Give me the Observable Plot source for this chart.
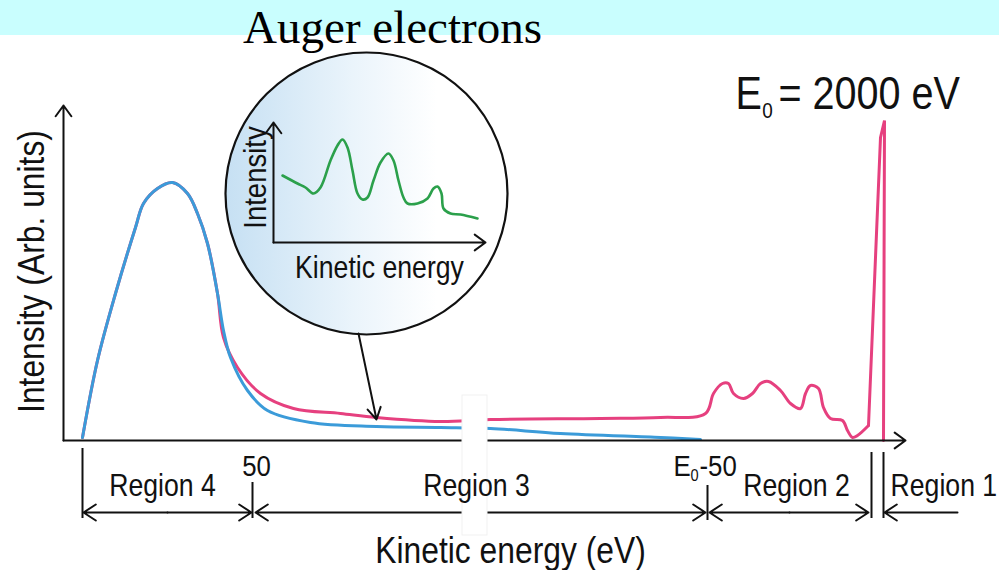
<!DOCTYPE html>
<html>
<head>
<meta charset="utf-8">
<style>
  html, body { margin: 0; padding: 0; background: #fff; }
  #chart svg { display: block; }
</style>
<script src="https://cdn.jsdelivr.net/npm/d3@7"></script>
<script src="https://cdn.jsdelivr.net/npm/@observablehq/plot@0.6"></script>
</head>
<body>
<div id="chart"></div>
<script>
// Schematic electron energy spectrum. x = position along the kinetic-energy axis
// (measured from the origin), y = intensity above the baseline, both in schematic units.

// Spectrum with loss features and Auger peaks (pink)
const fullSpectrum = [
  [19, 3], [34, 80], [52, 147], [72, 213], [80, 237], [94, 252], [109, 258], [124, 247],
  [134, 227], [144, 197], [154, 147], [160, 103], [174, 73], [197, 47], [230, 32],
  [277, 27], [313, 23], [377, 19], [427, 21], [537, 22], [597, 23], [642, 27],
  [650, 47], [659, 57], [665, 57], [670, 47], [680, 42], [689, 47], [697, 57], [705, 59],
  [717, 50], [727, 37], [737, 32], [742, 47], [747, 55], [755, 52], [760, 33], [767, 22],
  [779, 20], [784, 10], [789, 3], [794, 5], [805, 15]
];
// Elastic peak at E0
const elasticPeak = [[805, 15], [817, 303], [821, 320], [820, 0]];
// True secondary electrons only (blue)
const secondaries = [
  [19, 3], [34, 80], [52, 147], [72, 213], [80, 237], [94, 252], [109, 258], [124, 247],
  [134, 227], [144, 197], [154, 147], [160, 110], [167, 83], [184, 50], [204, 30],
  [247, 18], [313, 14], [377, 13], [427, 12], [497, 7], [597, 3], [637, 1]
];
// Magnified Auger fine structure (green)
const augerDetail = [
  [219, 265], [234, 257], [242, 253], [250, 247], [257, 253], [267, 280], [274, 295],
  [279, 301], [284, 293], [289, 270], [294, 247], [299, 241], [304, 243], [310, 260],
  [317, 278], [325, 287], [330, 280], [335, 260], [340, 243], [344, 237], [354, 237],
  [364, 242], [370, 252], [374, 254], [378, 247], [380, 232], [387, 227], [397, 226],
  [414, 222]
];

// Region names and boundary marks on the energy axis
const regionNames = ["Region 4", "Region 3", "Region 2", "Region 1"];
const boundaryTicks = [19, 189, 644, 808, 820];
const beamEnergy = "2000 eV";

// ---- layout of annotations ----
const band = [{x1: -63, x2: 936, y1: 405, y2: 440}];
const axes = [{x1: 0, y1: 0, x2: 0, y2: 335}, {x1: 0, y1: 0, x2: 842, y2: 0}];
const insetAxes = [{x1: 210, y1: 198, x2: 210, y2: 318}, {x1: 210, y1: 198, x2: 422, y2: 198}];
const lens = [{x: 303, y: 247}];
const pointer = [{x1: 295, y1: 107, x2: 313, y2: 21}];
const axisBreak = [{x1: 399, x2: 424, y1: 45, y2: -95}];
const tickSpans = [
  {x: boundaryTicks[0], y1: -8, y2: -78},
  {x: boundaryTicks[1], y1: -42, y2: -78},
  {x: boundaryTicks[2], y1: -45, y2: -80},
  {x: boundaryTicks[3], y1: -12, y2: -78},
  {x: boundaryTicks[4], y1: -12, y2: -78}
];
const yb = -72;
const spans = [
  {from: 104, to: 20}, {from: 104, to: 188},
  {from: 416, to: 192}, {from: 416, to: 642},
  {from: 726, to: 646}, {from: 726, to: 805},
  {from: 894, to: 821}
].map(d => ({x1: d.from, x2: d.to, y1: yb, y2: yb}));

const centredRegionLabels = [
  {text: regionNames[0], x: 99, y: -55},
  {text: regionNames[1], x: 413, y: -55},
  {text: regionNames[2], x: 733, y: -55}
];
const lastRegionLabel = [{text: regionNames[3], x: 827, y: -55}];

const ink = "#111";
const sans = "Liberation Sans, Arial, Helvetica, sans-serif";

const svg = Plot.plot({
  width: 999,
  height: 570,
  margin: 0,
  x: {domain: [-63, 936], axis: null},
  y: {domain: [-130, 440], axis: null},
  style: {background: "white", overflow: "visible"},
  marks: [
    // header band and title
    Plot.rect(band, {x1: "x1", x2: "x2", y1: "y1", y2: "y2", fill: "#c9fefe"}),

    // magnifier lens
    Plot.dot(lens, {x: "x", y: "y", r: 141, fill: "white", stroke: ink, strokeWidth: 2.2, ariaDescription: "lens"}),

    Plot.text(["Auger electrons"], {x: 329, y: 398, text: d => d, fontFamily: "Liberation Serif, Times New Roman, serif",
      fontSize: 47, fill: "black", lineAnchor: "bottom", textAnchor: "middle"}),

    // spectra
    Plot.line(fullSpectrum, {x: d => d[0], y: d => d[1], stroke: "#e6407f", strokeWidth: 3, curve: "catmull-rom"}),
    Plot.line(elasticPeak, {x: d => d[0], y: d => d[1], stroke: "#e6407f", strokeWidth: 3, strokeLinejoin: "miter"}),
    Plot.line(secondaries, {x: d => d[0], y: d => d[1], stroke: "#3b9bd9", strokeWidth: 3, curve: "catmull-rom"}),

    // main axes
    Plot.arrow(axes, {x1: "x1", y1: "y1", x2: "x2", y2: "y2", stroke: ink, strokeWidth: 2, headLength: 10, headAngle: 72}),

    // region brackets
    Plot.ruleX(tickSpans, {x: "x", y1: "y1", y2: "y2", stroke: ink, strokeWidth: 2}),
    Plot.arrow(spans, {x1: "x1", y1: "y1", x2: "x2", y2: "y2", stroke: ink, strokeWidth: 2, headLength: 11, headAngle: 66}),

    // axis break
    Plot.rect(axisBreak, {x1: "x1", x2: "x2", y1: "y1", y2: "y2", fill: "white", stroke: "#f1f1f1", strokeWidth: 1}),

    // labels
    Plot.text(centredRegionLabels, {x: "x", y: "y", text: "text", textAnchor: "middle", fontSize: 31, fontFamily: sans,
      fill: ink, lineAnchor: "bottom", ariaDescription: "condensed"}),
    Plot.text(lastRegionLabel, {x: "x", y: "y", text: "text", textAnchor: "start", fontSize: 31, fontFamily: sans,
      fill: ink, lineAnchor: "bottom", ariaDescription: "condensed"}),
    Plot.text(["50"], {x: 193, y: -35, text: d => d, fontSize: 30, fontFamily: sans, fill: ink,
      lineAnchor: "bottom", ariaDescription: "condensed"}),
    Plot.text(["E"], {x: 610, y: -35, text: d => d, fontSize: 30, fontFamily: sans, fill: ink,
      textAnchor: "start", lineAnchor: "bottom", ariaDescription: "condensed"}),
    Plot.text(["0"], {x: 631, y: -40, text: d => d, fontSize: 17, fontFamily: sans, fill: ink,
      lineAnchor: "bottom", ariaDescription: "condensed"}),
    Plot.text(["-50"], {x: 636, y: -35, text: d => d, fontSize: 30, fontFamily: sans, fill: ink,
      textAnchor: "start", lineAnchor: "bottom", ariaDescription: "condensed"}),
    Plot.text(["Kinetic energy (eV)"], {x: 447, y: -122, text: d => d, fontSize: 37, fontFamily: sans, fill: ink,
      lineAnchor: "bottom", ariaDescription: "condensed"}),
    Plot.text(["Intensity (Arb. units)"], {x: -20, y: 169, text: d => d, rotate: -90, fontSize: 37, fontFamily: sans,
      fill: ink, lineAnchor: "bottom", ariaDescription: "condensed"}),
    Plot.text(["E"], {x: 672, y: 332, text: d => d, fontSize: 46, fontFamily: sans, fill: ink,
      textAnchor: "start", lineAnchor: "bottom", ariaDescription: "condensed"}),
    Plot.text(["0"], {x: 704, y: 323, text: d => d, fontSize: 22, fontFamily: sans, fill: ink,
      lineAnchor: "bottom", ariaDescription: "condensed"}),
    Plot.text(["= " + beamEnergy], {x: 715, y: 332, text: d => d, fontSize: 46, fontFamily: sans, fill: ink,
      textAnchor: "start", lineAnchor: "bottom", ariaDescription: "condensed"}),

    // magnified Auger structure
    Plot.line(augerDetail, {x: d => d[0], y: d => d[1], stroke: "#2ba04b", strokeWidth: 2.6, curve: "catmull-rom"}),
    Plot.arrow(insetAxes, {x1: "x1", y1: "y1", x2: "x2", y2: "y2", stroke: ink, strokeWidth: 2, headLength: 10, headAngle: 72}),
    Plot.text(["Intensity"], {x: 202, y: 263, text: d => d, rotate: -90, fontSize: 32, fontFamily: sans, fill: ink,
      lineAnchor: "bottom", ariaDescription: "condensed"}),
    Plot.text(["Kinetic energy"], {x: 316, y: 163, text: d => d, fontSize: 31, fontFamily: sans, fill: ink,
      lineAnchor: "bottom", ariaDescription: "condensed"}),

    // pointer from lens to the Auger feature
    Plot.arrow(pointer, {x1: "x1", y1: "y1", x2: "x2", y2: "y2", stroke: ink, strokeWidth: 2, headLength: 10, headAngle: 60})
  ]
});

// soft blue shading across the lens
const root = d3.select(svg);
const grad = root.insert("defs", ":first-child").append("linearGradient")
  .attr("id", "lensShade").attr("x1", "0").attr("x2", "1").attr("y1", "0").attr("y2", "0");
grad.append("stop").attr("offset", "0").attr("stop-color", "#c6e0f3");
grad.append("stop").attr("offset", "0.45").attr("stop-color", "#eaf4fb");
grad.append("stop").attr("offset", "0.75").attr("stop-color", "#ffffff");
root.selectAll('g[aria-description="lens"] circle').attr("fill", "url(#lensShade)");

// narrow sans lettering
root.selectAll('g[aria-description="condensed"] text').each(function () {
  const t = this.getAttribute("transform") || "";
  this.setAttribute("transform", t + " scale(0.86,1)");
});

document.getElementById("chart").append(svg);
</script>
</body>
</html>
